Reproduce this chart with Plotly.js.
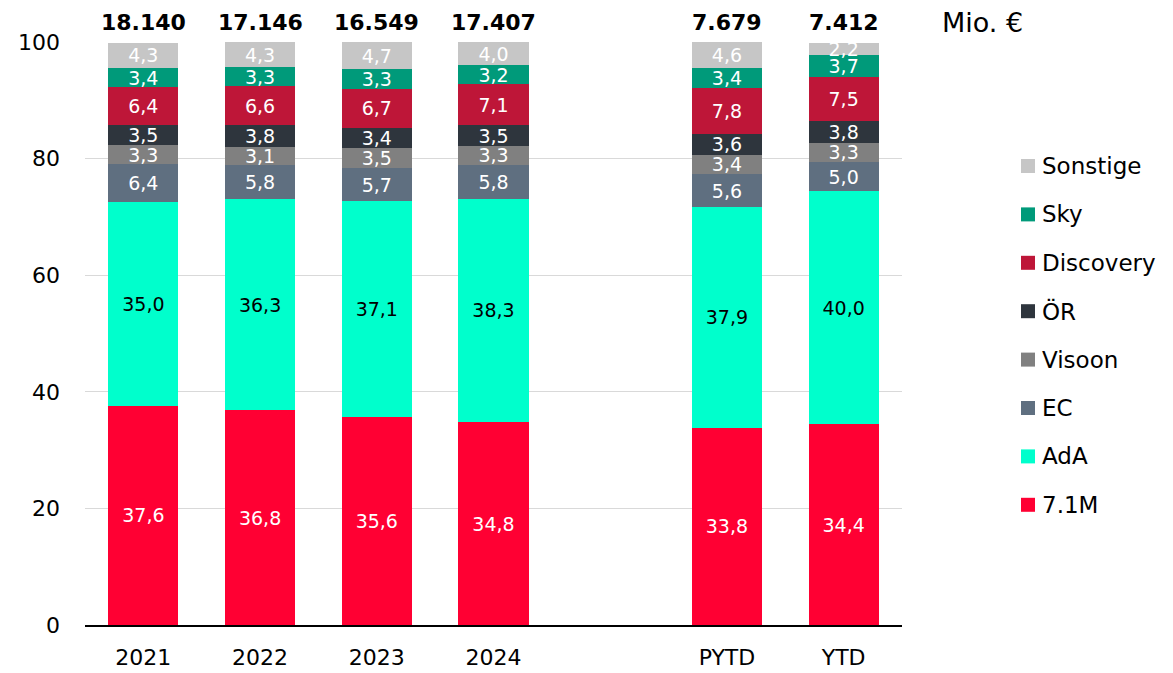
<!DOCTYPE html>
<html>
<head>
<meta charset="utf-8">
<script src="https://cdn.plot.ly/plotly-3.0.1.min.js"></script>
<style>html,body{margin:0;padding:0;background:#fff;}#chart{width:1173px;height:673px;}</style>
</head>
<body>
<div id="chart"></div>
<script>
// ---- data ----
const categories = ['2021', '2022', '2023', '2024', 'PYTD', 'YTD'];
const axisOrder = ['2021', '2022', '2023', '2024', ' ', 'PYTD', 'YTD'];
const totals = ['18.140', '17.146', '16.549', '17.407', '7.679', '7.412'];

const seriesNames = ['7.1M', 'AdA', 'EC', 'Visoon', 'ÖR', 'Discovery', 'Sky', 'Sonstige'];
const v71M      = [37.6, 36.8, 35.6, 34.8, 33.8, 34.4];
const vAdA      = [35.0, 36.3, 37.1, 38.3, 37.9, 40.0];
const vEC       = [6.4, 5.8, 5.7, 5.8, 5.6, 5.0];
const vVisoon   = [3.3, 3.1, 3.5, 3.3, 3.4, 3.3];
const vOR       = [3.5, 3.8, 3.4, 3.5, 3.6, 3.8];
const vDiscovery= [6.4, 6.6, 6.7, 7.1, 7.8, 7.5];
const vSky      = [3.4, 3.3, 3.3, 3.2, 3.4, 3.7];
const vSonstige = [4.3, 4.3, 4.7, 4.0, 4.6, 2.2];
const seriesValues = [v71M, vAdA, vEC, vVisoon, vOR, vDiscovery, vSky, vSonstige];

const colors = ['#FF0033', '#00FFCC', '#5F6F80', '#808080', '#2E353D', '#BE1638', '#009A7A', '#C6C6C6'];
const textColors = ['#FFFFFF', '#000000', '#FFFFFF', '#FFFFFF', '#FFFFFF', '#FFFFFF', '#FFFFFF', '#FFFFFF'];

const FONT = 'DejaVu Sans, sans-serif';
const fmt = v => v.toFixed(1).replace('.', ',');

const traces = seriesNames.map((name, i) => ({
  type: 'bar',
  name: name,
  x: categories,
  y: seriesValues[i],
  marker: { color: colors[i], line: { width: 0 } },
  text: seriesValues[i].map(fmt),
  textposition: 'inside',
  insidetextanchor: 'middle',
  constraintext: 'none',
  textangle: 0,
  textfont: { family: FONT, size: 19, color: textColors[i] },
  hoverinfo: 'name+y',
  showlegend: false
}));

// plot area geometry (pixels) for custom legend
const W = 1173, H = 673;
const margin = { l: 85, r: 271, t: 42, b: 48 };
const pw = W - margin.l - margin.r, ph = H - margin.t - margin.b;
const toPx = px => (px - margin.l) / pw;
const toPy = py => (H - margin.b - py) / ph;

const annotations = categories.map((c, i) => ({
  xref: 'x', yref: 'paper', x: axisOrder.indexOf(c), y: 1,
  xanchor: 'center', yanchor: 'middle', yshift: 20,
  text: '<b>' + totals[i] + '</b>', showarrow: false,
  font: { family: FONT, size: 22, color: '#000' }
}));
annotations.push({
  xref: 'paper', yref: 'paper', x: toPx(982), y: 1, xanchor: 'center', yanchor: 'middle', yshift: 20,
  text: 'Mio. €', showarrow: false, font: { family: FONT, size: 27, color: '#000' }
});

const shapes = [];
const legendOrder = seriesNames.map((n, i) => i).reverse();
legendOrder.forEach((si, k) => {
  const cy = 166 + k * 48.4;
  shapes.push({
    type: 'rect', xref: 'paper', yref: 'paper',
    x0: toPx(1021), x1: toPx(1035), y0: toPy(cy + 7), y1: toPy(cy - 7),
    fillcolor: colors[si], line: { width: 0 }
  });
  annotations.push({
    xref: 'paper', yref: 'paper', x: toPx(1040), y: toPy(cy),
    xanchor: 'left', yanchor: 'middle', text: seriesNames[si], showarrow: false,
    font: { family: FONT, size: 23, color: '#000' }
  });
});

const layout = {
  width: W, height: H,
  margin: margin,
  barmode: 'stack',
  bargap: 0.4,
  paper_bgcolor: '#fff', plot_bgcolor: '#fff',
  font: { family: FONT, color: '#000' },
  showlegend: false,
  xaxis: {
    type: 'category', categoryorder: 'array', categoryarray: axisOrder,
    range: [-0.5, 6.5], showline: true, linecolor: '#000', linewidth: 1.5,
    ticks: '', ticklabelstandoff: 12, tickfont: { family: FONT, size: 22, color: '#000' },
    showgrid: false, fixedrange: true
  },
  yaxis: {
    range: [0, 100], tickvals: [0, 20, 40, 60, 80, 100],
    showgrid: true, gridcolor: '#D9D9D9', gridwidth: 1, zeroline: false,
    ticks: '', ticklabelstandoff: 24, tickfont: { family: FONT, size: 22, color: '#000' },
    fixedrange: true
  },
  annotations: annotations,
  shapes: shapes
};

Plotly.newPlot('chart', traces, layout, { displayModeBar: false, staticPlot: true });
</script>
</body>
</html>
